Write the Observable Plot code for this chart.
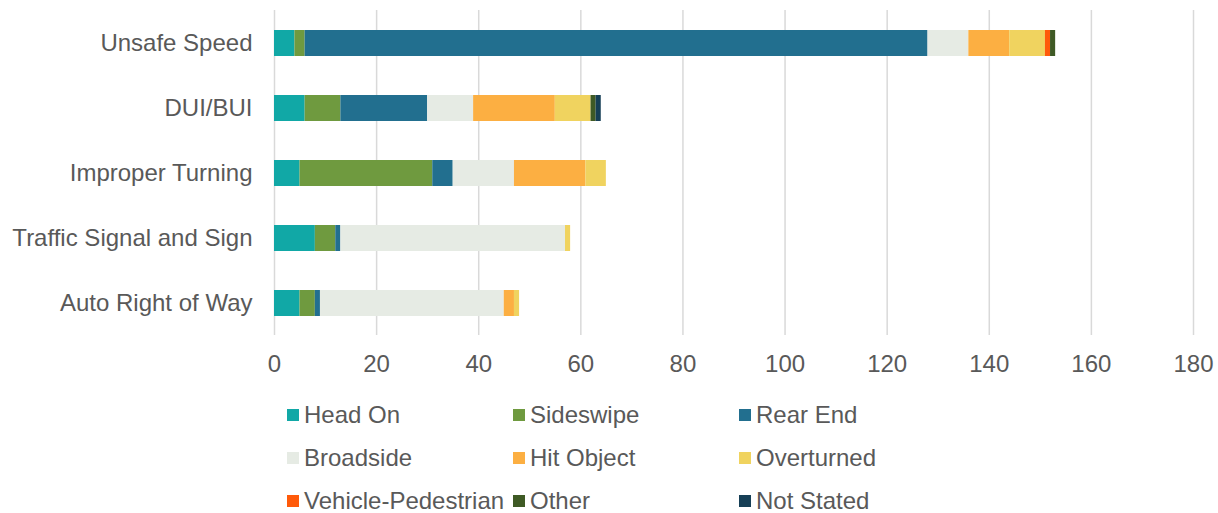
<!DOCTYPE html>
<html>
<head>
<meta charset="utf-8">
<script src="https://cdn.jsdelivr.net/npm/d3@7"></script>
<script src="https://cdn.jsdelivr.net/npm/@observablehq/plot@0.6"></script>
<style>
  html, body { margin: 0; padding: 0; background: #fff; }
  body { width: 1218px; height: 513px; overflow: hidden; font-family: "Liberation Sans", Arial, sans-serif; color: #595959; }
  #legend { display: grid; grid-template-columns: 226px 226px 226px; margin-left: 287px; padding-top: 3px; }
  .item { display: flex; align-items: center; height: 43px; font-size: 24px; white-space: nowrap; }
  .sw { width: 12px; height: 12px; margin-right: 5px; flex: none; }
</style>
</head>
<body>
<div id="chart"></div>
<div id="legend"></div>
<script>
const categories = ["Unsafe Speed", "DUI/BUI", "Improper Turning", "Traffic Signal and Sign", "Auto Right of Way"];
const seriesNames = ["Head On", "Sideswipe", "Rear End", "Broadside", "Hit Object", "Overturned", "Vehicle-Pedestrian", "Other", "Not Stated"];
const headOn     = [4, 6, 5, 8, 5];
const sideswipe  = [2, 7, 26, 4, 3];
const rearEnd    = [122, 17, 4, 1, 1];
const broadside  = [8, 9, 12, 44, 36];
const hitObject  = [8, 16, 14, 0, 2];
const overturned = [7, 7, 4, 1, 1];
const vehPed     = [1, 0, 0, 0, 0];
const other      = [1, 1, 0, 0, 0];
const notStated  = [0, 1, 0, 0, 0];
const xTicks = [0, 20, 40, 60, 80, 100, 120, 140, 160, 180];
const colors = ["#11A8A6", "#6F9A3F", "#226F8F", "#E6EBE4", "#FCAF42", "#F0D35F", "#FF5A0A", "#3F5A25", "#163F56"];

const seriesValues = [headOn, sideswipe, rearEnd, broadside, hitObject, overturned, vehPed, other, notStated];
const data = [];
categories.forEach((c, i) => {
  seriesNames.forEach((s, j) => {
    data.push({category: c, series: s, value: seriesValues[j][i]});
  });
});

const chart = Plot.plot({
  width: 1218,
  height: 390,
  marginTop: 10,
  marginBottom: 55,
  marginLeft: 274,
  marginRight: 25,
  style: {fontFamily: '"Liberation Sans", Arial, sans-serif', fontSize: "24px", color: "#595959", background: "#fff"},
  x: {domain: [0, 180], ticks: xTicks, label: null},
  y: {domain: categories, paddingInner: 0.6, paddingOuter: 0.3, label: null},
  color: {domain: seriesNames, range: colors},
  marks: [
    Plot.gridX(xTicks, {stroke: "#d9d9d9", strokeOpacity: 1, strokeWidth: 1.5}),
    Plot.barX(data, {x: "value", y: "category", fill: "series", order: seriesNames, inset: 0}),
    Plot.axisX(xTicks, {tickSize: 0, tickPadding: 19, fontSize: 24, fill: "#595959", label: null}),
    Plot.axisY({tickSize: 0, tickPadding: 22, fontSize: 24, fill: "#595959", label: null})
  ]
});
document.getElementById("chart").appendChild(chart);

const legend = document.getElementById("legend");
seriesNames.forEach((s, j) => {
  const item = document.createElement("div");
  item.className = "item";
  const sw = document.createElement("span");
  sw.className = "sw";
  sw.style.background = colors[j];
  const t = document.createElement("span");
  t.textContent = s;
  item.appendChild(sw);
  item.appendChild(t);
  legend.appendChild(item);
});
</script>
</body>
</html>
